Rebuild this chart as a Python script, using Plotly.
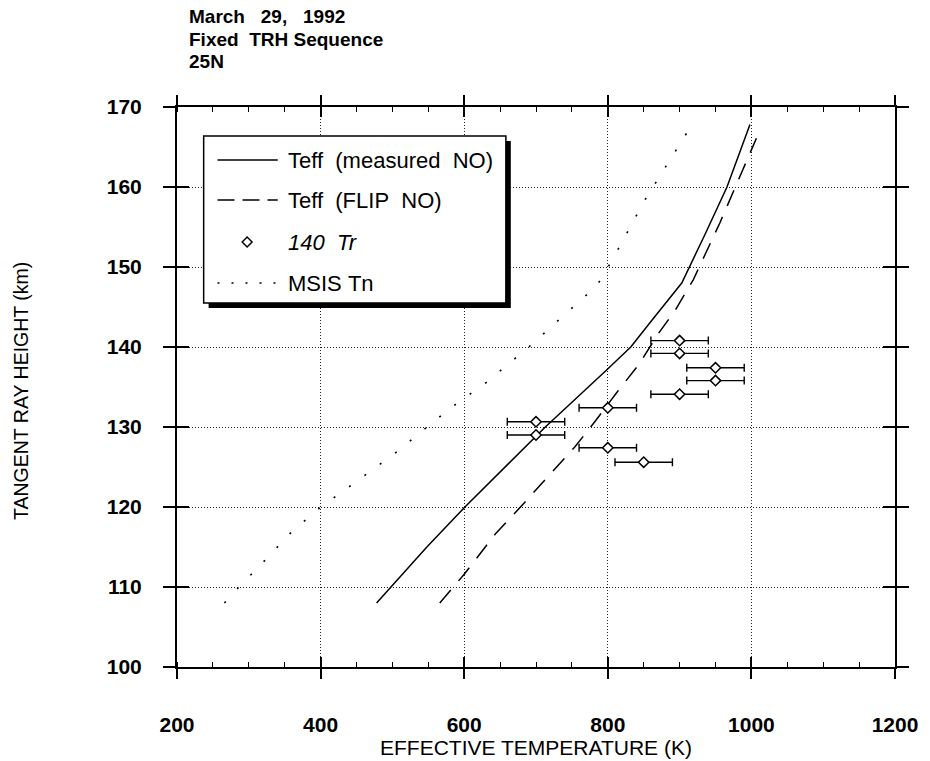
import plotly.graph_objects as go

# ---------------- data ----------------
measured_T = [478, 496, 548, 601, 713, 798, 832, 862, 903, 935, 966, 998]
measured_H = [108, 109.8, 115, 120, 130, 137.1, 140, 143.4, 148, 154, 160, 167.8]

flip_T = [566, 600, 644, 681, 716, 754, 784, 812, 844, 869, 894, 919, 956, 990, 1007]
flip_H = [108, 111.6, 116.7, 120.25, 123.75, 127.5, 130.9, 134.25, 137.9, 141.5,
          144.6, 148.4, 155.5, 162.6, 166.1]

msis_T = [266, 283, 321, 358.6, 397.6, 435.6, 474.6, 513.6, 533, 580, 629.7, 690,
          745, 785, 807, 828.6, 849.8, 873.4, 898.8, 911]
msis_H = [108, 109.7, 113.2, 116.8, 119.8, 122.25, 124.8, 127.4, 128.9, 132.3, 135.5,
          140, 144.4, 147.7, 151, 154.5, 158.1, 161.5, 165.1, 166.9]

tr_T = [900, 900, 950, 950, 900, 800, 700, 700, 800, 850]
tr_H = [140.8, 139.2, 137.4, 135.8, 134.1, 132.4, 130.65, 129.0, 127.4, 125.6]
tr_err = [40, 40, 40, 40, 40, 40, 40, 40, 40, 40]

x_ticks = [200, 400, 600, 800, 1000, 1200]
y_ticks = [100, 110, 120, 130, 140, 150, 160, 170]

NB = "\u00a0"
title_lines = ["March" + NB * 3 + "29," + NB * 3 + "1992",
               "Fixed" + NB * 2 + "TRH" + NB + "Sequence",
               "25N"]
legend_labels = ["Teff" + NB * 2 + "(measured" + NB * 2 + "NO)",
                 "Teff" + NB * 2 + "(FLIP" + NB * 2 + "NO)",
                 "<i>140" + NB * 2 + "Tr</i>",
                 "MSIS" + NB + "Tn"]

# ---------------- geometry helpers ----------------
W, HGT = 930, 761
ML, MR, MT, MB = 177, 26, 107, 94
PW, PH = W - ML - MR, HGT - MT - MB


def px(x):
    return (x - ML) / PW


def py(y):
    return (HGT - MB - y) / PH


FONT = "Liberation Sans, Arial, Helvetica, sans-serif"
DASH_FLIP = "17px,12px"
DASH_MSIS = "2px,17px"

fig = go.Figure()

fig.add_trace(go.Scatter(x=msis_T, y=msis_H, mode="lines",
                         line=dict(color="black", width=1.6, dash=DASH_MSIS),
                         showlegend=False))
fig.add_trace(go.Scatter(x=flip_T, y=flip_H, mode="lines",
                         line=dict(color="black", width=1.5, dash=DASH_FLIP),
                         showlegend=False))
fig.add_trace(go.Scatter(x=measured_T, y=measured_H, mode="lines",
                         line=dict(color="black", width=1.5),
                         showlegend=False))
fig.add_trace(go.Scatter(x=tr_T, y=tr_H, mode="markers",
                         marker=dict(symbol="diamond", size=8, color="white",
                                     line=dict(color="black", width=1.5)),
                         error_x=dict(type="data", array=tr_err, color="black",
                                      thickness=1.4, width=4),
                         showlegend=False))
# empty trace for the overlay axes (inside half of the crossing ticks)
fig.add_trace(go.Scatter(x=[], y=[], xaxis="x2", yaxis="y2", showlegend=False,
                         hoverinfo="skip"))

axis_common = dict(showline=True, linecolor="black", linewidth=2, mirror="ticks",
                   ticks="outside", tickcolor="black", tickwidth=1.5,
                   showgrid=True, gridcolor="#222", gridwidth=1, griddash="1px,2px",
                   zeroline=False,
                   tickfont=dict(family=FONT, size=21, color="black", weight="bold"))

fig.update_layout(
    width=W, height=HGT, autosize=False,
    margin=dict(l=ML, r=MR, t=MT, b=MB, pad=0),
    paper_bgcolor="white", plot_bgcolor="white",
    font=dict(family=FONT, color="black"),
    xaxis=dict(range=[200, 1200], tickvals=x_ticks, ticklen=10,
               ticklabelstandoff=28,
               minor=dict(ticks="inside", ticklen=5, dtick=50, tickcolor="black",
                          tickwidth=1.2, showgrid=False),
               **axis_common),
    yaxis=dict(range=[100, 170], tickvals=y_ticks, ticklen=12,
               ticklabelstandoff=17,
               **axis_common),
    xaxis2=dict(range=[200, 1200], overlaying="x", anchor="y2", side="bottom",
                tickvals=x_ticks, ticks="inside", ticklen=10, tickwidth=1.5,
                tickcolor="black", mirror="ticks", showline=False,
                showticklabels=False, showgrid=False, zeroline=False),
    yaxis2=dict(range=[100, 170], overlaying="y", anchor="x2", side="left",
                tickvals=y_ticks, ticks="inside", ticklen=12, tickwidth=1.5,
                tickcolor="black", mirror="ticks", showline=False,
                showticklabels=False, showgrid=False, zeroline=False),
)

annotations = []
# title block
for txt, yy in zip(title_lines, [17, 39, 61]):
    annotations.append(dict(text="<b>" + txt + "</b>", x=px(188), y=py(yy),
                            xref="paper", yref="paper", xanchor="left",
                            yanchor="middle", showarrow=False, borderpad=0,
                            font=dict(family=FONT, size=19, color="black")))
# axis titles
annotations.append(dict(text="EFFECTIVE TEMPERATURE (K)", x=px(540), y=py(747),
                        xref="paper", yref="paper", xanchor="center",
                        yanchor="middle", showarrow=False,
                        font=dict(family=FONT, size=21, color="black")))
annotations.append(dict(text="TANGENT RAY HEIGHT (km)", x=px(19), y=py(391),
                        xref="paper", yref="paper", xanchor="center",
                        yanchor="middle", showarrow=False, textangle=-90,
                        font=dict(family=FONT, size=19.5, color="black")))

# ---------------- hand-built legend box ----------------
shapes = []
bx0, bx1, by0, by1 = 204, 510, 136, 303
shadow = 5
shapes.append(dict(type="rect", xref="paper", yref="paper", layer="above",
                   x0=px(bx0 + shadow), x1=px(bx1 + shadow),
                   y0=py(by1 + shadow), y1=py(by0 + shadow),
                   fillcolor="black", line=dict(width=0)))
shapes.append(dict(type="rect", xref="paper", yref="paper", layer="above",
                   x0=px(bx0), x1=px(bx1), y0=py(by1), y1=py(by0),
                   fillcolor="white", line=dict(color="black", width=1.5)))

rows = [160, 200, 242, 283]
sx0, sx1, tx = 218, 279, 287
shapes.append(dict(type="line", xref="paper", yref="paper", layer="above",
                   x0=px(sx0), x1=px(sx1), y0=py(rows[0]), y1=py(rows[0]),
                   line=dict(color="black", width=1.5)))
shapes.append(dict(type="line", xref="paper", yref="paper", layer="above",
                   x0=px(sx0), x1=px(sx1), y0=py(rows[1]), y1=py(rows[1]),
                   line=dict(color="black", width=1.5, dash="17px,8px")))
dcx, dcy, dr = 248, rows[2], 5
shapes.append(dict(type="path", xref="paper", yref="paper", layer="above",
                   path="M {} {} L {} {} L {} {} L {} {} Z".format(
                       px(dcx - dr), py(dcy), px(dcx), py(dcy - dr),
                       px(dcx + dr), py(dcy), px(dcx), py(dcy + dr)),
                   fillcolor="white", line=dict(color="black", width=1.5)))
shapes.append(dict(type="line", xref="paper", yref="paper", layer="above",
                   x0=px(sx0), x1=px(sx1), y0=py(rows[3]), y1=py(rows[3]),
                   line=dict(color="black", width=1.6, dash="2px,12px")))

for lab, ry in zip(legend_labels, rows):
    annotations.append(dict(text=lab, x=px(tx), y=py(ry), xref="paper", yref="paper",
                            xanchor="left", yanchor="middle", showarrow=False,
                            font=dict(family=FONT, size=22, color="black")))

fig.update_layout(shapes=shapes, annotations=annotations)

# remove the default 8px page margin so the figure sits at the window origin
fig.write_html("out.html",
               config={"displayModeBar": False},
               post_script="document.body.style.margin='0px';"
                           "document.body.style.overflow='hidden';")
